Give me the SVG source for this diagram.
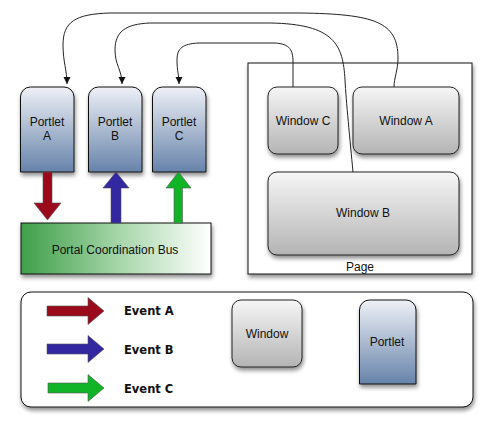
<svg xmlns="http://www.w3.org/2000/svg" width="492" height="431" viewBox="0 0 492 431">
<defs>
<linearGradient id="gPortlet" x1="0" y1="0" x2="0" y2="1"><stop offset="0" stop-color="#eef0f6"/><stop offset="1" stop-color="#6783aa"/></linearGradient>
<linearGradient id="gWindow" x1="0" y1="0" x2="0" y2="1"><stop offset="0" stop-color="#f6f6f6"/><stop offset="1" stop-color="#b4b4b4"/></linearGradient>
<linearGradient id="gBus" x1="0" y1="0" x2="1" y2="0"><stop offset="0" stop-color="#3f9f4a"/><stop offset="0.5" stop-color="#a3d4a6"/><stop offset="1" stop-color="#ffffff"/></linearGradient>
<filter id="sh" x="-20%" y="-20%" width="140%" height="150%"><feDropShadow dx="1" dy="3" stdDeviation="2.2" flood-color="#000" flood-opacity="0.45"/></filter>
<marker id="ah" markerWidth="8" markerHeight="8" refX="7" refY="4" orient="auto" markerUnits="userSpaceOnUse"><path d="M0,0.5 L7,4 L0,7.5 Z" fill="#111"/></marker>
<style>
.lbl{font-family:"Liberation Sans",Arial,sans-serif;font-size:12px;fill:#111;text-anchor:middle}
.ev{font-family:"DejaVu Sans",sans-serif;font-weight:bold;font-size:11.5px;fill:#111}
.portlet{fill:url(#gPortlet);stroke:#111;stroke-width:1;filter:url(#sh)}
.window{fill:url(#gWindow);stroke:#222;stroke-width:1;filter:url(#sh)}
.conn{fill:none;stroke:#222;stroke-width:1;marker-end:url(#ah)}
.conn2{fill:none;stroke:#222;stroke-width:1}
.arr{stroke:#555;stroke-width:0.6}
</style>
</defs>
<rect width="492" height="431" fill="#fff"/>

<g id="page">
<rect x="248" y="63" width="224" height="211" fill="#fff" stroke="#111" stroke-width="1" filter="url(#sh)"/>
<text class="lbl" x="360" y="271">Page</text>
</g>

<g id="window-c"><rect class="window" x="268" y="87" width="70" height="67" rx="9"/><text class="lbl" x="303" y="125">Window C</text></g>
<g id="window-a"><rect class="window" x="353" y="87" width="106" height="67" rx="9"/><text class="lbl" x="406" y="125">Window A</text></g>
<g id="window-b"><rect class="window" x="268" y="172" width="191" height="83" rx="9"/><text class="lbl" x="363" y="217">Window B</text></g>

<g id="portlet-a"><path class="portlet" d="M20.5,172 V97 A10,10 0 0 1 30.5,87 H64 A10,10 0 0 1 74,97 V172 Z"/><text class="lbl" x="47" y="126">Portlet</text><text class="lbl" x="47" y="140">A</text></g>
<g id="portlet-b"><path class="portlet" d="M88.5,172 V97 A10,10 0 0 1 98.5,87 H132 A10,10 0 0 1 142,97 V172 Z"/><text class="lbl" x="115" y="126">Portlet</text><text class="lbl" x="115" y="140">B</text></g>
<g id="portlet-c"><path class="portlet" d="M152.5,172 V97 A10,10 0 0 1 162.5,87 H196 A10,10 0 0 1 206,97 V172 Z"/><text class="lbl" x="179" y="126">Portlet</text><text class="lbl" x="179" y="140">C</text></g>

<g id="bus"><rect x="21" y="223" width="190" height="51" fill="url(#gBus)" stroke="#111" stroke-width="1" filter="url(#sh)"/><text class="lbl" x="115" y="254">Portal Coordination Bus</text></g>

<g id="connectors">
<path class="conn" d="M394,87 C394,78 398,70 398,58 C398,22 375,14 300,13 L110,13 C75,14 63,22 63,45 C63,62 67,70 67,84"/>
<path class="conn" d="M353,172 C350,140 346,100 345,80 C343,45 335,24 270,23 L150,23 C125,24 115,32 115,50 C115,65 122,70 122,84"/>
<path class="conn" d="M293,87 L293,62 C293,50 290,44 275,43 L198,43 C183,44 177,48 177,60 C177,72 179,74 179,84"/>
<path class="arr" d="M43,172 H52 V203 H61 L47.5,220 L34,203 H43 Z" fill="#9b0a1a"/>
<path class="arr" d="M111,223 V188 H103 L116,172 L129,188 H121 V223 Z" fill="#3327a2"/>
<path class="arr" d="M174,223 V188 H166 L178.5,172 L191,188 H182.5 V223 Z" fill="#12b427"/>
</g>

<g id="legend">
<rect x="21" y="292" width="452" height="115" rx="10" fill="#fff" stroke="#111" stroke-width="1" filter="url(#sh)"/>
<path class="arr" d="M47,306 H88 V297.5 L104,311 L88,324.5 V316 H47 Z" fill="#9b0a1a"/>
<path class="arr" d="M47,344 H88 V335.5 L104,349 L88,362.5 V354 H47 Z" fill="#3327a2"/>
<path class="arr" d="M48,383 H88 V374.5 L104,388 L88,401.5 V393 H48 Z" fill="#12b427"/>
<text class="ev" x="124" y="315">Event A</text>
<text class="ev" x="124" y="354">Event B</text>
<text class="ev" x="124" y="393">Event C</text>
</g>
<g id="legend-window"><rect class="window" x="232" y="300" width="70" height="67" rx="9"/><text class="lbl" x="267" y="338">Window</text></g>
<g id="legend-portlet"><path class="portlet" d="M359.5,384 V310 A10,10 0 0 1 369.5,300 H406 A10,10 0 0 1 416,310 V384 Z"/><text class="lbl" x="387" y="346">Portlet</text></g>
</svg>
